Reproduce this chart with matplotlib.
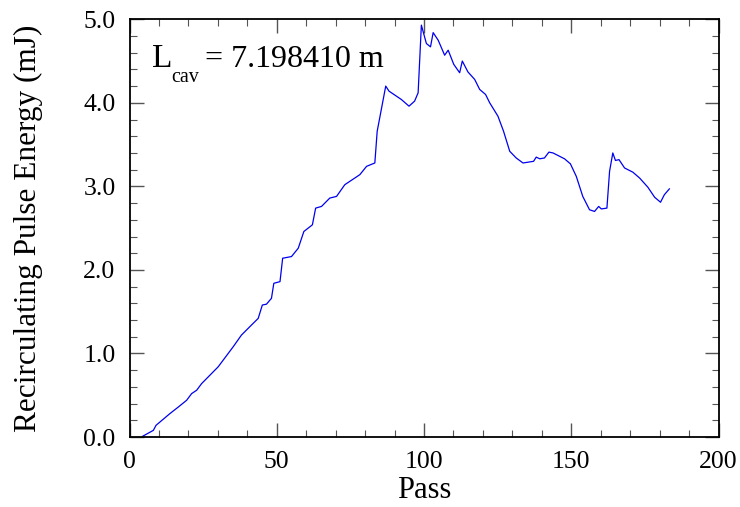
import numpy as np
import matplotlib
matplotlib.use('Agg')
from matplotlib import pyplot as plt
from matplotlib.ticker import MultipleLocator

# values
passes = [4.5, 8.1, 9.0, 13.7, 16.6, 19.4, 21.1, 22.8, 24.5, 30.1, 35.2, 38.0,
          41.4, 43.7, 45.1, 46.5, 48.2, 49.0, 51.1, 52.0, 55.0, 57.3, 59.2,
          62.1, 63.2, 65.2, 68.0, 70.3, 73.1, 78.2, 80.5, 83.3, 84.1, 87.0,
          88.1, 92.3, 94.9, 96.8, 98.0, 99.1, 100.8, 102.2, 103.1, 104.8,
          107.0, 108.2, 110.1, 112.1, 113.0, 114.9, 117.2, 118.9, 120.9,
          122.3, 125.1, 127.0, 129.1, 131.3, 133.6, 137.2, 138.1, 139.3,
          140.9, 142.4, 143.8, 147.7, 149.7, 151.7, 153.9, 156.2, 157.9,
          159.3, 160.2, 162.1, 163.0, 164.1, 165.0, 166.2, 168.1, 170.9,
          173.2, 176.0, 178.3, 180.3, 181.6, 183.3]
energy = [0.01, 0.08, 0.14, 0.28, 0.36, 0.44, 0.52, 0.56, 0.64, 0.84, 1.08, 1.22,
          1.34, 1.42, 1.58, 1.59, 1.66, 1.84, 1.86, 2.14, 2.16, 2.26, 2.46,
          2.54, 2.74, 2.76, 2.86, 2.88, 3.02, 3.14, 3.24, 3.28, 3.66, 4.20,
          4.14, 4.04, 3.96, 4.02, 4.12, 4.93, 4.71, 4.67, 4.84, 4.75,
          4.57, 4.63, 4.46, 4.36, 4.50, 4.37, 4.28, 4.16, 4.10,
          4.00, 3.84, 3.66, 3.42, 3.34, 3.28, 3.30, 3.35, 3.33,
          3.34, 3.41, 3.40, 3.33, 3.27, 3.12, 2.88, 2.72, 2.70,
          2.76, 2.73, 2.74, 3.18, 3.40, 3.31, 3.32, 3.22, 3.17,
          3.10, 2.99, 2.87, 2.81, 2.90, 2.97]

plt.rcParams['font.family'] = ['Liberation Serif', 'DejaVu Serif']

fig = plt.figure(figsize=(7.4, 5.07), dpi=100)
ax = fig.add_axes([0.175, 0.138, 0.796, 0.824])

ax.plot(passes, energy, color='#0000ee', lw=0.9)

ax.set_xlim(0, 200)
ax.set_ylim(0, 5)
ax.xaxis.set_major_locator(MultipleLocator(50))
ax.xaxis.set_minor_locator(MultipleLocator(10))
ax.yaxis.set_major_locator(MultipleLocator(1))
ax.yaxis.set_minor_locator(MultipleLocator(0.2))
ax.yaxis.set_major_formatter(matplotlib.ticker.FormatStrFormatter('%.1f'))
ax.tick_params(which='both', direction='in', top=True, right=True,
               labelsize=18.5, color='#555555')
ax.tick_params(axis='x', pad=10)
ax.tick_params(axis='y', pad=10)
ax.tick_params(which='major', length=10, width=1.0)
ax.tick_params(which='minor', length=5, width=0.8)
for s in ax.spines.values():
    s.set_linewidth(1.3)

ax.set_xlabel('Pass', fontsize=22)
ax.set_ylabel('Recirculating Pulse Energy (mJ)', fontsize=22.5)
ax.xaxis.set_label_coords(0.5, -0.094)
ax.yaxis.set_label_coords(-0.147, 0.5)

ax.text(0.039, 0.886, 'L', transform=ax.transAxes, fontsize=24)
ax.text(0.071, 0.85, 'cav', transform=ax.transAxes, fontsize=14.5)
ax.text(0.128, 0.886, '= 7.198410 m', transform=ax.transAxes, fontsize=23)

fig.savefig('out.png', dpi=100)
